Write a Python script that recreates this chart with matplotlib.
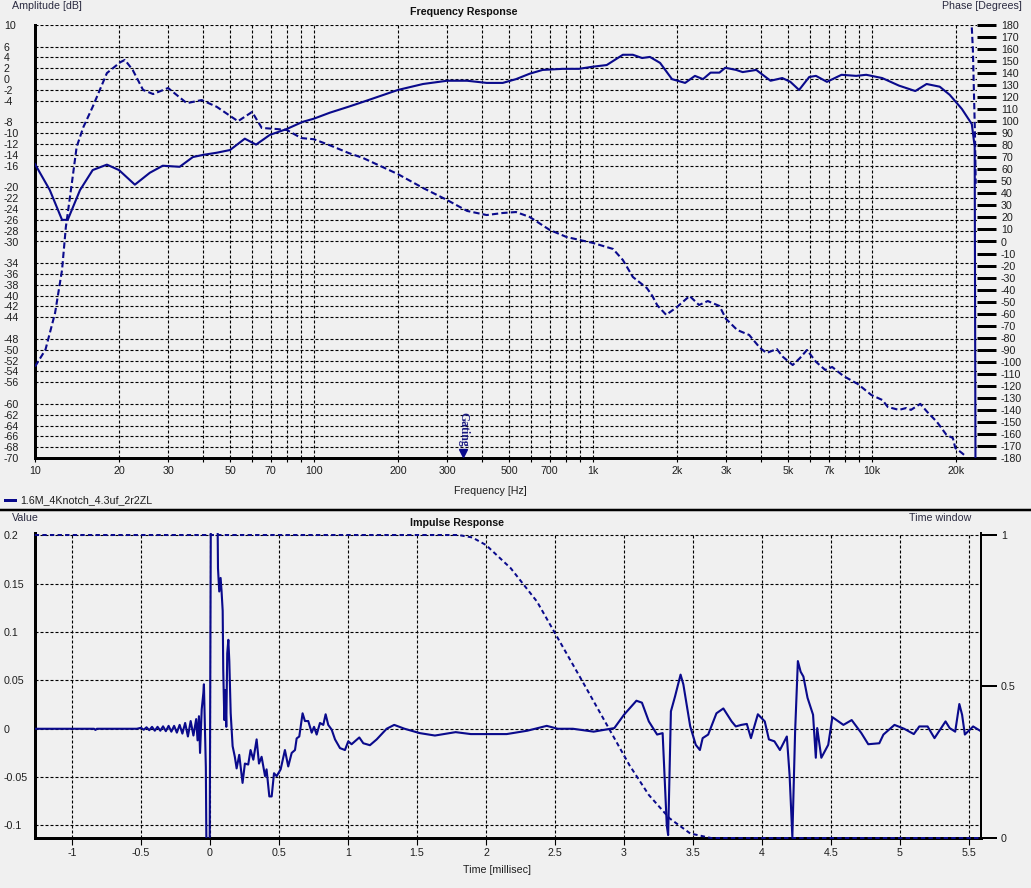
import numpy as np
import matplotlib
matplotlib.use('Agg')
import matplotlib.pyplot as plt
from matplotlib.ticker import FixedLocator, NullFormatter
from matplotlib.lines import Line2D

plt.rcParams['font.family'] = ['Liberation Sans', 'DejaVu Sans']

# ---------------- data: frequency response ----------------
amp_freq = [10, 11.3, 12.5, 13.1, 14.5, 16.1, 18.1, 20, 22.8, 25.8, 28.7, 33, 36.8, 40, 44.8,
            50, 56.5, 62, 69.5, 80, 91, 100, 114, 133, 150, 200, 246, 300, 354, 416, 475,
            530, 593, 660, 780, 890, 1000, 1120, 1280, 1390, 1500, 1600, 1740, 1920, 2140,
            2320, 2480, 2640, 2840, 2980, 3260, 3440, 3850, 4330, 4770, 5100, 5480, 5960,
            6300, 6900, 7780, 8780, 9540, 10880, 12500, 14300, 15700, 17500, 19000, 21000,
            22800, 23350, 23550]
amp_db = [-15.7, -20.5, -26, -26, -20.5, -16.8, -15.8, -16.8, -19.5, -17.3, -16, -16.2, -14.4, -14, -13.6,
          -13.1, -11, -12.1, -10.3, -9.2, -7.9, -7.3, -6.2, -5.1, -4.2, -2, -0.9, -0.3, -0.3, -0.7, -0.7,
          0, 1, 1.7, 1.9, 1.9, 2.3, 2.6, 4.5, 4.5, 3.9, 4.1, 3, 0, -0.7,
          0.6, 0, 1.2, 1.2, 2.1, 1.7, 1.3, 1.7, -0.3, 0.2, -0.5, -2, 0.4,
          0.6, -0.5, 0.8, 0.6, 0.8, 0.2, -1.2, -2.2, -0.9, -1.4, -2.9, -5.5,
          -8.3, -12.5, -90]

ph_freq = [10, 10.9, 11.8, 12.5, 12.9, 13.6, 14.1, 14.9, 16.1, 18.1, 20.2, 21, 22.4, 24.4, 26.5,
           30, 35, 39.6, 44.8, 53.4, 60, 65, 73.6, 80, 90, 100, 114, 133, 150, 200, 246, 300,
           354, 416, 475, 530, 593, 700, 805, 1000, 1180, 1280, 1390, 1560, 1630, 1700, 1830,
           2000, 2220, 2400, 2580, 2840, 3000, 3290, 3630, 3970, 4190, 4560, 4800, 5200, 5520,
           5850, 6300, 6800, 7200, 7900, 8900, 9950, 10900, 11400, 12500, 13300, 13800, 14900,
           15800, 17100, 18500, 19500, 19900, 21000, 21800]
ph_deg = [-104, -90, -59.5, -23.7, 12, 51, 78.6, 95, 112, 140, 149, 151, 142.6, 126, 122.6,
          127.6, 115, 117.6, 112, 100, 107.7, 94.4, 93.5, 92.7, 86, 85, 80, 73.6, 69.4, 56, 44.5, 34.5,
          25.4, 22, 23.7, 24.5, 20.4, 9.6, 3.7, -1.2, -6.2, -15.4, -29.5, -38.7, -45, -53, -61,
          -54.5, -45.3, -52.8, -49.5, -53.6, -64.4, -73.6, -77.7, -88.5, -92.7, -89.4, -96, -102.7, -96.9,
          -90.2, -100, -106.8, -104.3, -111.8, -118.5, -127.6, -131.8, -137.6, -140, -138.4, -140, -135,
          -141.8, -150, -160.8, -163.4, -171.7, -175.8, -179]
ph_wrap_freq = [22800, 23000, 23200, 23400, 23550]
ph_wrap_deg = [178, 160, 125, 90, 48]

amp_ticks = [10, 6, 4, 2, 0, -2, -4, -8, -10, -12, -14, -16, -20, -22, -24, -26, -28, -30,
             -34, -36, -38, -40, -42, -44, -48, -50, -52, -54, -56, -60, -62, -64, -66, -68, -70]
freq_ticks = [10, 20, 30, 50, 70, 100, 200, 300, 500, 700, 1000, 2000, 3000, 5000, 7000, 10000, 20000]
freq_labels = ['10', '20', '30', '50', '70', '100', '200', '300', '500', '700', '1k', '2k', '3k',
               '5k', '7k', '10k', '20k']
freq_minor = [40, 60, 80, 90, 400, 600, 800, 900, 4000, 6000, 8000, 9000]
phase_ticks = list(range(-180, 181, 10))
gating_freq = 342

# ---------------- data: impulse response ----------------
pre_t = [-1.27, -0.84, -0.83, -0.82, -0.53,
         -0.50, -0.48, -0.46, -0.44, -0.42, -0.40, -0.38, -0.36, -0.34, -0.32, -0.30, -0.28,
         -0.26, -0.24, -0.22, -0.20, -0.18, -0.16, -0.14, -0.12, -0.10]
pre_v = [0, 0, -0.0012, 0, 0,
         0.001, -0.001, 0.0015, -0.0015, 0.002, -0.002, 0.002, -0.002, 0.0025, -0.0025, 0.003, -0.003,
         0.003, -0.004, 0.004, -0.005, 0.006, -0.008, 0.008, -0.007, 0.01]
early_t = [-0.09, -0.08, -0.072, -0.06, -0.048, -0.044, -0.04, -0.03, -0.022, -0.004, 0.008, 0.05,
           0.058, 0.067, 0.077, 0.084, 0.092, 0.096, 0.104, 0.111, 0.118, 0.125, 0.133, 0.14, 0.15,
           0.164, 0.18, 0.193, 0.212, 0.222, 0.236, 0.253, 0.277, 0.294, 0.314, 0.338, 0.355, 0.374,
           0.399, 0.41, 0.43, 0.447, 0.464, 0.483, 0.512, 0.543, 0.567, 0.592, 0.616, 0.628, 0.647,
           0.671, 0.688, 0.712, 0.737, 0.754, 0.773, 0.797, 0.821, 0.838, 0.857, 0.882, 0.906, 0.942,
           0.978, 1.002, 1.026, 1.082, 1.111, 1.159, 1.208, 1.28]
early_v = [-0.012, 0.013, -0.025, 0.02, 0.037, 0.046, 0.02, -0.04, -0.2, -0.2, 0.3, 0.3,
           0.166, 0.142, 0.156, 0.142, 0.122, 0.061, 0.009, 0.04, 0.002, 0.078, 0.092, 0.07, 0.016,
           -0.018, -0.029, -0.041, -0.027, -0.039, -0.056, -0.036, -0.037, -0.022, -0.032, -0.011, -0.036, -0.029,
           -0.049, -0.042, -0.07, -0.07, -0.046, -0.049, -0.042, -0.022, -0.039, -0.025, -0.022, -0.01, -0.008,
           0.016, 0.008, 0.008, -0.004, 0.002, -0.006, 0.006, 0.004, 0.015, 0.004, -0.001, -0.011, -0.02,
           -0.022, -0.013, -0.016, -0.009, -0.015, -0.017, -0.011, 0]
late_t = [1.335, 1.41, 1.52, 1.63, 1.78, 1.89, 2.0, 2.15, 2.30, 2.44, 2.52, 2.63, 2.78, 2.93, 3.0,
          3.09, 3.13, 3.18, 3.24, 3.28, 3.31, 3.32, 3.34, 3.37, 3.41, 3.43, 3.48, 3.52, 3.55, 3.57,
          3.61, 3.67, 3.72, 3.78, 3.81, 3.85, 3.89, 3.92, 3.97, 4.02, 4.05, 4.09, 4.13, 4.18, 4.2,
          4.22, 4.24, 4.26, 4.28, 4.30, 4.33, 4.37, 4.39, 4.40, 4.43, 4.48, 4.51, 4.59, 4.65, 4.72,
          4.77, 4.85, 4.88, 4.96, 5.03, 5.10, 5.14, 5.20, 5.25, 5.33, 5.36, 5.40, 5.43, 5.45, 5.47,
          5.53, 5.58]
late_v = [0.004, 0, -0.0045, -0.007, -0.0035, -0.0055, -0.0055, -0.0055, -0.002, 0.003, 0, 0, -0.003, 0.0007, 0.0145,
          0.029, 0.027, 0.0076, -0.006, -0.0045, -0.1, -0.11, 0.018, 0.0335, 0.056, 0.046, 0.0024, -0.0166, -0.022, -0.0097,
          -0.006, 0.016, 0.021, 0.0076, 0.0024, 0.004, 0.005, -0.0097, 0.015, 0.0076, -0.011, -0.013, -0.022, -0.008, -0.048,
          -0.112, -0.003, 0.07, 0.059, 0.054, 0.032, 0.0145, -0.03, 0.0007, -0.03, -0.0166, 0.012, 0.004, 0.009, -0.0045,
          -0.016, -0.015, -0.006, 0.004, 0, -0.0055, 0.0024, 0.0024, -0.0097, 0.0076, 0.0007, -0.003, 0.0256, 0.0145, -0.006,
          0.0024, -0.002]

win_t = [-1.27, 1.8, 1.9, 2.0, 2.18, 2.37, 2.52, 2.70, 2.89, 3.04, 3.18, 3.33, 3.48, 3.63, 5.58]
win_v = [1, 1, 0.992, 0.967, 0.89, 0.78, 0.66, 0.516, 0.362, 0.24, 0.142, 0.065, 0.015, 0, 0]

time_ticks = [-1, -0.5, 0, 0.5, 1, 1.5, 2, 2.5, 3, 3.5, 4, 4.5, 5, 5.5]
time_labels = ['-1', '-0.5', '0', '0.5', '1', '1.5', '2', '2.5', '3', '3.5', '4', '4.5', '5', '5.5']
val_ticks = [0.2, 0.15, 0.1, 0.05, 0, -0.05, -0.1]
val_labels = ['0.2', '0.15', '0.1', '0.05', '0', '-0.05', '-0.1']
win_ticks = [0, 0.5, 1]
win_labels = ['0', '0.5', '1']

# ---------------- style ----------------
BG = '#F0F0F0'
NAVY = '#0A0A8C'
TXT = '#1E1E1E'
FS = 7.7
W, H = 1031, 888
PX = 72 / 100  # points per pixel

fig = plt.figure(figsize=(W / 100, H / 100), dpi=100, facecolor=BG)


def fx(px):
    return px / W


def fy(py):
    return 1 - py / H


grid_kw = dict(color='black', linestyle=(0, (2.7, 1.8)), linewidth=0.8)

# ================= Frequency response =================
ax1 = fig.add_axes([fx(35), fy(458), fx(977) - fx(35), fy(25) - fy(458)])
ax1.set_facecolor(BG)
ax1.set_xscale('log')
ax1.set_xlim(10, 23800)
ax1.set_ylim(-70, 10)
ax1.xaxis.set_major_locator(FixedLocator(freq_ticks))
ax1.set_xticklabels(freq_labels)
ax1.xaxis.set_minor_locator(FixedLocator(freq_minor))
ax1.xaxis.set_minor_formatter(NullFormatter())
ax1.set_yticks(amp_ticks)
ax1.set_yticklabels([str(v) for v in amp_ticks])
ax1.grid(True, which='both', axis='x', **grid_kw)
ax1.grid(True, which='major', axis='y', **grid_kw)
ax1.set_axisbelow(True)
ax1.tick_params(axis='x', which='both', direction='out', length=4 * PX, width=0.8,
                color='black', labelsize=FS, labelcolor=TXT, pad=3)
ax1.tick_params(axis='y', length=0, pad=31 * PX, labelsize=FS, labelcolor=TXT)
for t in ax1.get_yticklabels():
    t.set_horizontalalignment('left')
for s in ['top', 'right']:
    ax1.spines[s].set_visible(False)
ax1.spines['left'].set_linewidth(3 * PX)
ax1.spines['bottom'].set_linewidth(3 * PX)

ax1.plot(amp_freq, amp_db, color=NAVY, linewidth=2 * PX * 1.05, zorder=3)

ax1b = ax1.twinx()
ax1b.set_ylim(-180, 180)
ax1b.set_yticks(phase_ticks)
ax1b.set_yticklabels([str(v) for v in phase_ticks])
ax1b.tick_params(axis='y', direction='out', length=19 * PX, width=3 * PX, color='black',
                 labelsize=FS, labelcolor=TXT, pad=5 * PX)
for s in ax1b.spines.values():
    s.set_visible(False)
ph_kw = dict(color=NAVY, linewidth=2 * PX * 1.05, linestyle=(0, (3.0, 1.5)), zorder=3)
ax1b.plot(ph_freq, ph_deg, **ph_kw)
ax1b.plot(ph_wrap_freq, ph_wrap_deg, **ph_kw)

# gating marker
ax1.plot([gating_freq], [-69.0], marker='v', markersize=6, color=NAVY, clip_on=False, zorder=5)
ax1.text(gating_freq, -68.0, 'Gating', rotation=270, ha='center', va='bottom',
         fontsize=8.5, fontweight='bold', family=['Liberation Serif', 'DejaVu Serif'], color='#1A1A80',
         zorder=6)

fig.text(fx(12), fy(6), 'Amplitude [dB]', ha='left', va='center', fontsize=FS, color='#2A2A40')
fig.text(fx(1022), fy(6), 'Phase [Degrees]', ha='right', va='center', fontsize=FS, color='#2A2A40')
fig.text(fx(410), fy(12), 'Frequency Response', ha='left', va='center', fontsize=FS,
         fontweight='bold', color='#101010')
fig.text(fx(490), fy(491), 'Frequency [Hz]', ha='center', va='center', fontsize=FS, color=TXT)

# legend + separator
fig.add_artist(Line2D([fx(5), fx(15)], [fy(500), fy(500)], color=NAVY, linewidth=3 * PX))
fig.text(fx(20), fy(500), '1.6M_4Knotch_4.3uf_2r2ZL', ha='left', va='center', fontsize=FS, color=TXT)
fig.add_artist(Line2D([0, 1], [fy(510), fy(510)], color='black', linewidth=2.5 * PX))

# ================= Impulse response =================
ax2 = fig.add_axes([fx(35), fy(838), fx(981) - fx(35), fy(533) - fy(838)])
ax2.set_facecolor(BG)
ax2.set_xlim(-1.268, 5.587)
ax2.set_ylim(-0.113, 0.2025)
ax2.set_xticks(time_ticks)
ax2.set_xticklabels(time_labels)
ax2.set_yticks(val_ticks)
ax2.set_yticklabels(val_labels)
ax2.grid(True, **grid_kw)
ax2.set_axisbelow(True)
ax2.tick_params(axis='x', direction='out', length=7 * PX, width=0.8, color='black',
                labelsize=FS, labelcolor=TXT, pad=2)
ax2.tick_params(axis='y', length=0, pad=31 * PX, labelsize=FS, labelcolor=TXT)
for t in ax2.get_yticklabels():
    t.set_horizontalalignment('left')
ax2.spines['top'].set_visible(False)
ax2.spines['left'].set_linewidth(3 * PX)
ax2.spines['bottom'].set_linewidth(3 * PX)
ax2.spines['right'].set_linewidth(2 * PX)

imp_t = list(pre_t) + list(early_t) + list(late_t)
imp_v = list(pre_v) + list(early_v) + list(late_v)
ax2.plot(imp_t, imp_v, color=NAVY, linewidth=2 * PX * 1.05, zorder=3)

ax2b = ax2.twinx()
ax2b.set_ylim(0, 1.0066)
ax2b.set_yticks(win_ticks)
ax2b.set_yticklabels(win_labels)
ax2b.tick_params(axis='y', direction='out', length=16 * PX, width=2 * PX, color='black',
                 labelsize=FS, labelcolor=TXT, pad=4 * PX)
for s in ['top', 'left', 'bottom']:
    ax2b.spines[s].set_visible(False)
ax2b.spines['right'].set_linewidth(2 * PX)
ax2b.plot(win_t, win_v, color=NAVY, linewidth=2 * PX, linestyle=(0, (2.2, 1.6)), zorder=3,
          clip_on=False)

fig.text(fx(12), fy(518), 'Value', ha='left', va='center', fontsize=FS, color='#2A2A40')
fig.text(fx(940), fy(518), 'Time window', ha='center', va='center', fontsize=FS, color='#2A2A40')
fig.text(fx(410), fy(523), 'Impulse Response', ha='left', va='center', fontsize=FS,
         fontweight='bold', color='#101010')
fig.text(fx(497), fy(870), 'Time [millisec]', ha='center', va='center', fontsize=FS, color=TXT)

fig.savefig('out.png', dpi=100, facecolor=BG)
